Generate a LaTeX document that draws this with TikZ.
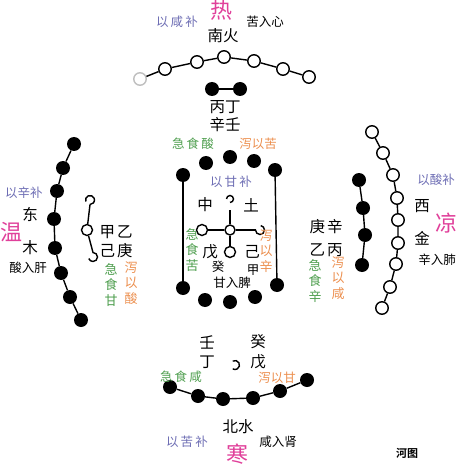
\documentclass[tikz,border=0pt]{standalone}
\usepackage{fontspec}
\newfontfamily\cjk{Noto Sans CJK SC}
\newfontfamily\cjkb{Noto Sans CJK SC Bold}
\definecolor{bu}{HTML}{6E6EB4}
\definecolor{pk}{HTML}{E0409A}
\definecolor{gn}{HTML}{4E9E4E}
\definecolor{og}{HTML}{EC9050}
\begin{document}
\begin{tikzpicture}[x=1pt,y=1pt,
  wc/.style={circle,draw,line width=1.4pt,fill=white,minimum size=12.5pt,inner sep=0},
  bc/.style={circle,fill=black,minimum size=14pt,inner sep=0},
  ln/.style={line width=1.4pt},
  big/.style={font=\cjk\fontsize{15.5}{15.5}\selectfont,inner sep=0},
  sm/.style={font=\cjk\fontsize{12.5}{12.5}\selectfont,inner sep=0},
  vt/.style={font=\cjk\fontsize{13}{15.5}\selectfont,inner sep=0,align=center},
  hot/.style={font=\cjk\fontsize{22}{22}\selectfont,inner sep=0,text=pk}]
\useasboundingbox (0,0) rectangle (465,-465);
% ---------- top (south, fire)
\node[hot] (re) at (221,-10) {热};
\node[sm,text=bu] (yxb) at (177,-22) {以\,咸\,补};
\node[sm] (kxr) at (265,-22) {苦入心};
\node[big] (nh) at (223,-36) {南火};
\node[wc,draw=gray!50] (t1) at (140,-79) {};
\node[wc] (t2) at (165,-69) {};
\node[wc] (t3) at (197,-62) {};
\node[wc] (t4) at (224,-57) {};
\node[wc] (t5) at (254,-61) {};
\node[wc] (t6) at (283,-69) {};
\node[wc] (t7) at (309,-77) {};
\draw[ln] (t1)--(t2)--(t3)--(t4)--(t5)--(t6)--(t7);
\node[bc] (p1) at (212,-89) {};
\node[bc] (p2) at (240,-89) {};
\draw[ln] (p1)--(p2);
\node[big] (bd) at (225,-107) {丙丁};
\node[big] (xr) at (225,-125) {辛壬};
\node[sm,text=gn] (jss) at (193,-144) {急\,食\,酸};
\node[sm,text=og] (xyk) at (258,-144) {泻以苦};
% ---------- left (east, wood)
\node[bc] (L1) at (74,-144) {};
\node[bc] (L2) at (63,-168) {};
\node[bc] (L3) at (57,-191) {};
\node[bc] (L4) at (54,-219) {};
\node[bc] (L5) at (55,-248) {};
\node[bc] (L6) at (61,-273) {};
\node[bc] (L7) at (70,-297) {};
\node[bc] (L8) at (81,-320) {};
\draw[ln] (L1)--(L2)--(L3)--(L4)--(L5)--(L6)--(L7)--(L8);
\node[sm,text=bu] (yxb2) at (24,-193) {以辛补};
\node[big] (dong) at (30,-215) {东};
\node[hot] (wen) at (12,-232) {温};
\node[big] (mu) at (30,-248) {木};
\node[sm] (srg) at (28,-268) {酸入肝};
\coordinate (lh1) at (90,-200);
\draw[ln] ([shift={(200:4.5)}]lh1) arc[start angle=200,end angle=-90,radius=4.5];
\node[wc,minimum size=11pt] (lc) at (87,-230) {};
\coordinate (lh2) at (93,-257);
\draw[ln] (90,-204.5) -- (lc);
\draw[ln] (lc) -- ([shift={(90:4.5)}]lh2) arc[start angle=90,end angle=-160,radius=4.5];
\node[big] (jy) at (116,-232) {甲\hspace{2pt}乙};
\node[big] (jg) at (116,-251) {己\hspace{2pt}庚};
\node[vt,text=gn] (jsg) at (111,-285) {急\\食\\甘};
\node[vt,text=og] (xys) at (131,-283) {泻\\以\\酸};
% ---------- right (west, metal)
\node[wc] (R1) at (372,-132) {};
\node[wc] (R2) at (383,-153) {};
\node[wc] (R3) at (393,-175) {};
\node[wc] (R4) at (397,-198) {};
\node[wc] (R5) at (398,-220) {};
\node[wc] (R6) at (398,-243) {};
\node[wc] (R7) at (396,-264) {};
\node[wc] (R8) at (390,-287) {};
\node[wc] (R9) at (382,-308) {};
\draw[ln] (R1)--(R2)--(R3)--(R4)--(R5)--(R6)--(R7)--(R8)--(R9);
\node[bc] (r1) at (359,-180) {};
\node[bc] (r2) at (363,-208) {};
\node[bc] (r3) at (365,-235) {};
\node[bc] (r4) at (362,-265) {};
\draw[ln] (r1)--(r2)--(r3)--(r4);
\node[sm,text=bu] (ysb) at (436,-180) {以酸补};
\node[big] (xi) at (422,-206) {西};
\node[hot] (liang) at (446,-223) {凉};
\node[big] (jin) at (422,-238) {金};
\node[sm] (xrf) at (437,-260) {辛入肺};
\node[big] (gx) at (326,-227) {庚\hspace{2pt}辛};
\node[big] (yb) at (326,-250) {乙\hspace{2pt}丙};
\node[vt,text=gn] (jsx) at (315,-281) {急\\食\\辛};
\node[vt,text=og] (xyx) at (338,-278) {泻\\以\\咸};
% ---------- centre (earth)
\node[bc] (c1) at (206,-163) {};
\node[bc] (c2) at (230,-157) {};
\node[bc] (c3) at (254,-161) {};
\node[bc] (cl) at (183,-175) {};
\node[bc] (cr) at (275,-170) {};
\node[bc] (bl) at (183,-288) {};
\node[bc] (b1) at (205,-300) {};
\node[bc] (b2) at (230,-302) {};
\node[bc] (b3) at (255,-297) {};
\node[bc] (br) at (277,-285) {};
\draw[ln] (cl)--(bl);
\draw[ln] (cr)--(br);
\node[sm,text=bu] (ygb) at (231,-182) {以\,甘\,补};
\node[big] (zhong) at (205,-205) {中};
\node[big] (tu) at (251,-205) {土};
\coordinate (ch) at (230,-199);
\draw[ln] ([shift={(180:3.5)}]ch) arc[start angle=180,end angle=-90,radius=3.5];
\node[wc,minimum size=10pt] (cc) at (230,-230) {};
\node[wc,minimum size=11pt] (ccl) at (202,-230) {};
\coordinate (ccr) at (260,-230);
\node[wc,minimum size=11pt] (ccb) at (230,-252) {};
\draw[ln] (230,-210) -- (cc);
\draw[ln] (ccl) -- (cc) -- ([shift={(180:4.5)}]ccr);
\draw[ln] ([shift={(-180:4.5)}]ccr) arc[start angle=-180,end angle=80,radius=4.5];
\draw[ln] (cc) -- (ccb);
\node[big] (wu) at (210,-252) {戊};
\node[big] (ji) at (252,-252) {己};
\node[sm] (gui) at (218,-267) {癸};
\node[sm] (jia) at (253,-270) {甲};
\node[sm] (grp) at (232,-283) {甘入脾};
\node[vt,text=gn] (jsk) at (192,-250) {急\\食\\苦};
\node[vt,text=og] (xyx2) at (266,-251) {泻\\以\\辛};
% ---------- bottom (north, water)
\node[big] (ren) at (207,-342) {壬};
\node[big] (ding) at (207,-362) {丁};
\node[big] (gui2) at (258,-342) {癸};
\node[big] (wu2) at (258,-362) {戊};
\coordinate (bh) at (235,-365);
\draw[ln] ([shift={(120:4.5)}]bh) arc[start angle=120,end angle=-120,radius=4.5];
\node[bc] (B1) at (170,-387) {};
\node[bc] (B2) at (198,-396) {};
\node[bc] (B3) at (223,-399) {};
\node[bc] (B4) at (253,-398) {};
\node[bc] (B5) at (280,-391) {};
\node[bc] (B6) at (307,-380) {};
\draw[ln] (B1)--(B2)--(B3)--(B4)--(B5)--(B6);
\node[sm,text=gn] (jsx3) at (181,-377) {急\,食\,咸};
\node[sm,text=og] (xyg) at (277,-378) {泻以甘};
\node[big] (bs) at (238,-427) {北水};
\node[sm,text=bu] (ykb) at (187,-442) {以\,苦\,补};
\node[sm] (xrs) at (278,-442) {咸入肾};
\node[hot] (han) at (237,-454) {寒};
\node[font=\cjkb\fontsize{11}{11}\selectfont,inner sep=0] (ht) at (407,-453) {河图};
\end{tikzpicture}
\end{document}
